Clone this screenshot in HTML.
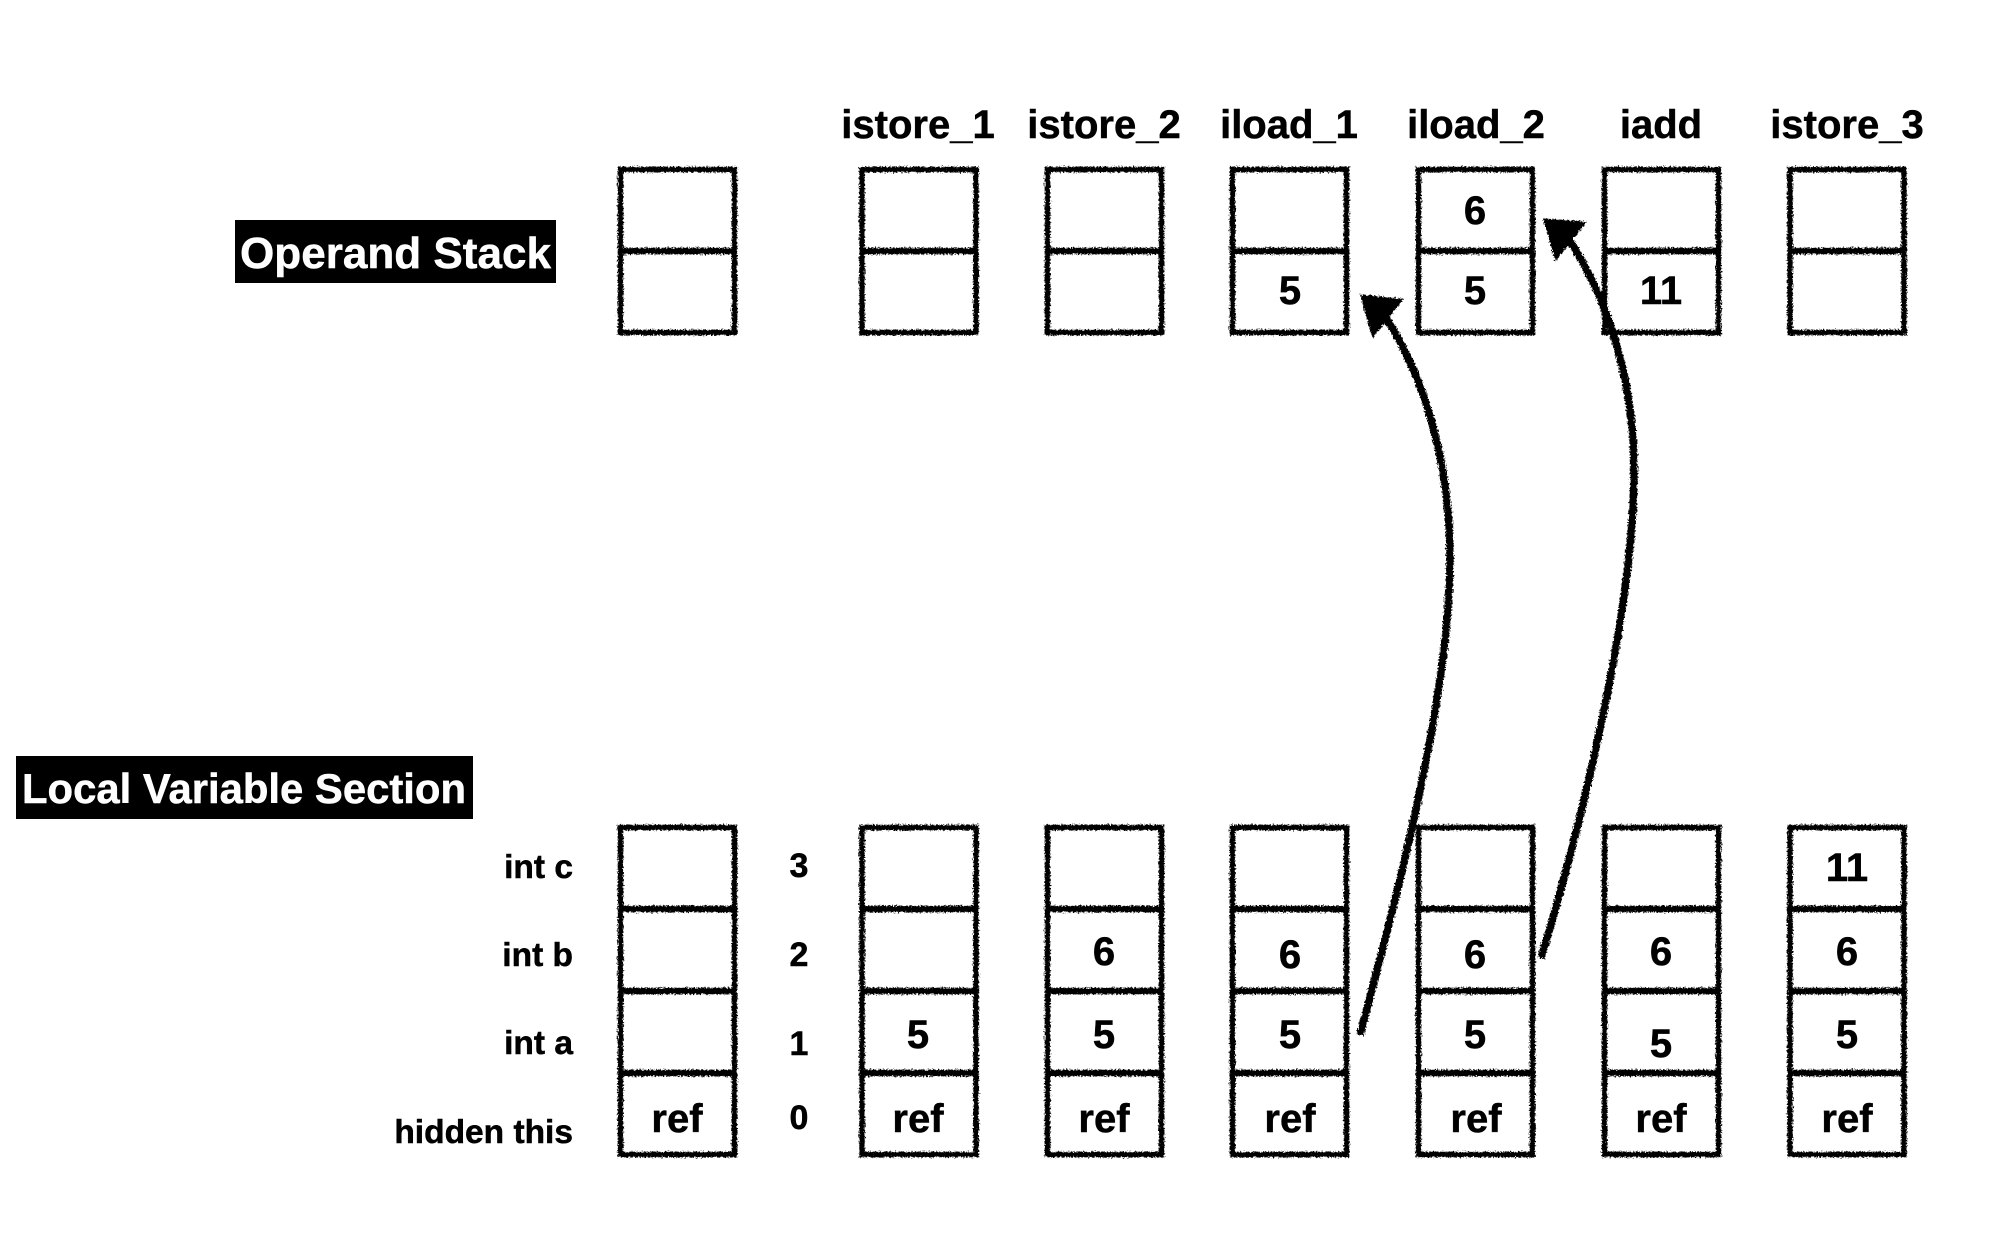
<!DOCTYPE html>
<html>
<head>
<meta charset="utf-8">
<style>
html,body{margin:0;padding:0;background:#fff;}
svg{display:block;}
text{font-family:"Liberation Sans",sans-serif;font-weight:700;fill:#000;stroke:#000;stroke-width:.5px;}
.h{font-size:40px;text-anchor:middle;}
.v{font-size:40px;text-anchor:middle;}
.l{font-size:33.5px;text-anchor:end;}
.i{font-size:34px;text-anchor:middle;}
text.w{fill:#fff;stroke:#fff;}
</style>
</head>
<body>
<svg width="2016" height="1234" viewBox="0 0 2016 1234" xmlns="http://www.w3.org/2000/svg">
<defs>
<filter id="rough" x="-5%" y="-5%" width="110%" height="110%">
<feTurbulence type="fractalNoise" baseFrequency="0.6" numOctaves="2" seed="4" result="n"/>
<feDisplacementMap in="SourceGraphic" in2="n" scale="5" xChannelSelector="R" yChannelSelector="G"/>
</filter>
<g id="top" fill="none" stroke="#000">
<rect x="2.5" y="169.5" width="114" height="163" stroke-width="5.5"/>
<path d="M1 251H118" stroke-width="6.5"/>
</g>
<g id="bot" fill="none" stroke="#000">
<rect x="2.5" y="827.5" width="114" height="327" stroke-width="5.5"/>
<path d="M1 909H118M1 991H118M1 1073H118" stroke-width="6.5"/>
</g>
</defs>
<rect width="2016" height="1234" fill="#fff"/>

<rect x="235" y="220" width="321" height="63" fill="#000"/>
<text x="240" y="268" class="w" textLength="311" lengthAdjust="spacingAndGlyphs" style="font-size:44px">Operand Stack</text>
<rect x="16" y="756" width="457" height="63" fill="#000"/>
<text x="22" y="803" class="w" textLength="444" lengthAdjust="spacingAndGlyphs" style="font-size:42px">Local Variable Section</text>

<text class="h" x="918" y="138">istore_1</text>
<text class="h" x="1104" y="138">istore_2</text>
<text class="h" x="1289" y="138">iload_1</text>
<text class="h" x="1476" y="138">iload_2</text>
<text class="h" x="1661" y="138">iadd</text>
<text class="h" x="1847" y="138">istore_3</text>

<g filter="url(#rough)">
<use href="#top" x="618"/><use href="#top" x="859.5"/><use href="#top" x="1045"/><use href="#top" x="1230"/><use href="#top" x="1416"/><use href="#top" x="1602"/><use href="#top" x="1787.5"/>
<use href="#bot" x="618"/><use href="#bot" x="859.5"/><use href="#bot" x="1045"/><use href="#bot" x="1230"/><use href="#bot" x="1416"/><use href="#bot" x="1602"/><use href="#bot" x="1787.5"/>
<g fill="none" stroke="#000" stroke-width="7.5" stroke-linecap="butt">
<path d="M1360 1035C1393 910 1450 700 1450 558C1450 460 1423 375 1386 318"/>
<path d="M1541 958C1574 850 1634 620 1634 470C1634 380 1608 300 1570 241"/>
</g>
<polygon points="1362,296 1401,300 1373,335" fill="#000" stroke="#000" stroke-width="3"/>
<polygon points="1545,220 1584,223 1556,258" fill="#000" stroke="#000" stroke-width="3"/>
</g>

<text class="v" x="1290" y="304">5</text>
<text class="v" x="1475" y="224">6</text>
<text class="v" x="1475" y="304">5</text>
<text class="v" x="1661" y="304">11</text>

<text class="l" x="573" y="878">int c</text>
<text class="l" x="573" y="966">int b</text>
<text class="l" x="573" y="1054">int a</text>
<text class="l" x="573" y="1143">hidden this</text>

<text class="i" x="799" y="877">3</text>
<text class="i" x="799" y="966">2</text>
<text class="i" x="799" y="1055">1</text>
<text class="i" x="799" y="1129">0</text>

<text class="v" x="677" y="1132">ref</text>
<text class="v" x="918" y="1132">ref</text>
<text class="v" x="1104" y="1132">ref</text>
<text class="v" x="1290" y="1132">ref</text>
<text class="v" x="1476" y="1132">ref</text>
<text class="v" x="1661" y="1132">ref</text>
<text class="v" x="1847" y="1132">ref</text>

<text class="v" x="918" y="1048">5</text>
<text class="v" x="1104" y="1048">5</text>
<text class="v" x="1290" y="1048">5</text>
<text class="v" x="1475" y="1048">5</text>
<text class="v" x="1661" y="1057">5</text>
<text class="v" x="1847" y="1048">5</text>

<text class="v" x="1104" y="965">6</text>
<text class="v" x="1290" y="968">6</text>
<text class="v" x="1475" y="968">6</text>
<text class="v" x="1661" y="965">6</text>
<text class="v" x="1847" y="965">6</text>

<text class="v" x="1847" y="881">11</text>
</svg>
</body>
</html>
